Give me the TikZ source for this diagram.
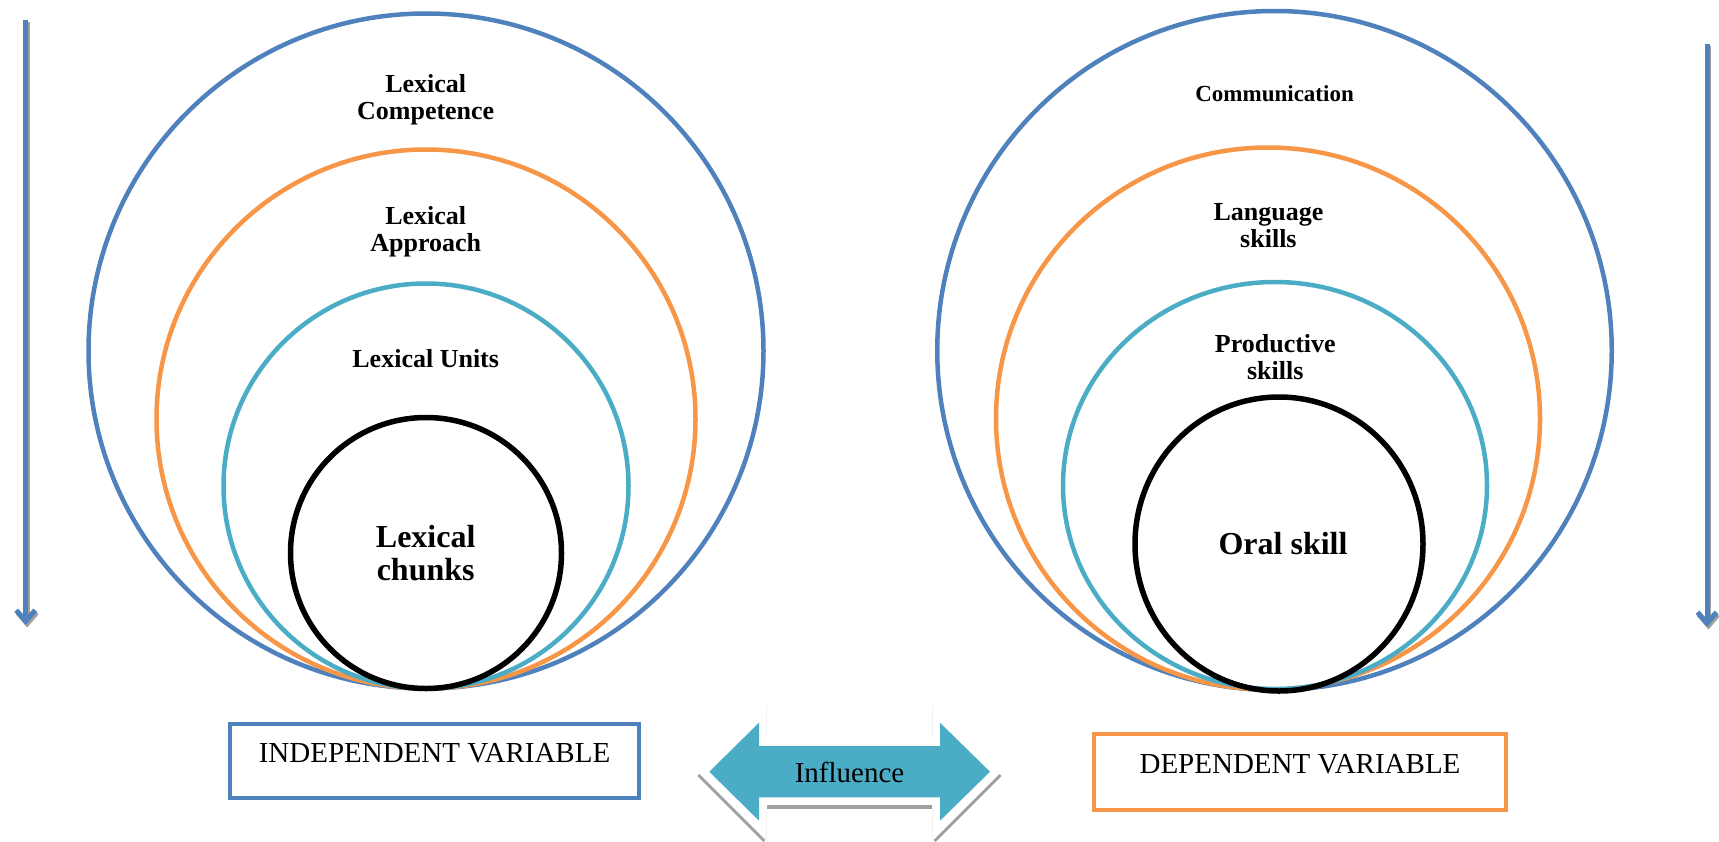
\documentclass[tikz,border=0pt]{standalone}
\usepackage{fontspec}
\setmainfont{Liberation Serif}
\usetikzlibrary{arrows.meta,shapes.geometric}
\definecolor{cblue}{RGB}{79,129,189}
\definecolor{corange}{RGB}{247,150,70}
\definecolor{cteal}{RGB}{75,172,198}
\definecolor{cgray}{RGB}{160,160,160}
\begin{document}
\begin{tikzpicture}[x=1pt,y=-1pt,
  ring/.style={ellipse, draw, line width=4.5pt, inner sep=0pt, outer sep=0pt},
  lab/.style={font=\bfseries\fontsize{26}{27}\selectfont, align=center, inner sep=0pt},
  smalllab/.style={font=\bfseries\fontsize{23}{25}\selectfont, align=center, inner sep=0pt},
  biglab/.style={font=\bfseries\fontsize{32}{33.3}\selectfont, align=center, inner sep=0pt},
  varbox/.style={draw=#1, line width=4.5pt, inner sep=0pt, text=black, font=\fontsize{29}{32}\selectfont, text height=19.2pt},
  vline/.style={line width=5pt, cblue, -{Straight Barb[length=11pt,width=19pt]}},
  vshadow/.style={line width=5pt, cgray, -{Straight Barb[length=11pt,width=19pt]}},
]
\useasboundingbox (0,0) rectangle (1719,841);

% left vertical arrow
\coordinate (a1s) at (25.7,19.7);
\coordinate (a1e) at (25.7,625);
\draw[vshadow] ([shift={(1.5,2.5)}]a1s) -- ([shift={(1.5,2.5)}]a1e);
\draw[vline] (a1s) -- (a1e);
% right vertical arrow
\coordinate (a2s) at (1707,43.9);
\coordinate (a2e) at (1707,627);
\draw[vshadow] ([shift={(1.5,2.5)}]a2s) -- ([shift={(1.5,2.5)}]a2e);
\draw[vline] (a2s) -- (a2e);

% left rings
\node[ring, cblue,   minimum width=675pt, minimum height=675pt] (L1) at (426,351) {};
\node[ring, corange, minimum width=539pt, minimum height=539pt] (L2) at (426,419) {};
\node[ring, cteal,   minimum width=405pt, minimum height=405pt] (L3) at (426,486) {};
\node[ring, black, line width=5.5pt, minimum width=271pt, minimum height=271pt] (L4) at (426,553) {};

% right rings
\node[ring, cblue,   minimum width=674.5pt, minimum height=679pt] (R1) at (1274.5,350.5) {};
\node[ring, corange, minimum width=544pt, minimum height=542pt] (R2) at (1268,418.5) {};
\node[ring, cteal,   minimum width=424pt, minimum height=407pt] (R3) at (1275,485.5) {};
\node[ring, black, line width=5.5pt, minimum width=288pt, minimum height=294pt] (R4) at (1279,544) {};

% left labels
\node[lab] (tLC) at (425.7,100) {Lexical\\Competence};
\node[lab] (tLA) at (425.7,231.3) {Lexical\\Approach};
\node[lab] (tLU) at (425.7,358.8) {Lexical Units};
\node[biglab] (tLK) at (425.7,553.3) {Lexical\\chunks};

% right labels
\node[smalllab] (tCo) at (1274.6,93.8) {Communication};
\node[lab] (tLS) at (1268.4,226) {Language\\skills};
\node[lab] (tPS) at (1275.3,357.5) {Productive\\skills};
\node[biglab] (tOS) at (1283,543.3) {Oral skill};

% variable boxes
\node[varbox=cblue, minimum width=409pt, minimum height=74pt, text depth=15.8pt] (iv) at (434.5,761) {INDEPENDENT VARIABLE};
\node[varbox=corange, minimum width=412pt, minimum height=76pt, text depth=17.2pt] (dv) at (1300,772) {DEPENDENT VARIABLE};

% influence arrow shadow bits
\draw[gray!12, line width=1pt] (766.7,706) -- (766.7,737) (766.7,810) -- (766.7,841);
\draw[gray!12, line width=1pt] (932.3,706) -- (932.3,737) (932.3,810) -- (932.3,841);
\draw[cgray, line width=2.8pt] (698.3,775) -- (764.3,841);
\draw[cgray, line width=2.8pt] (1000.7,775) -- (934.7,841);
\draw[cgray, line width=4pt] (766.7,807.3) -- (932.3,807.3);

% influence double arrow
\fill[cteal] (709.3,771.7) -- (759,722.7) -- (759,746) -- (940,746) -- (940,722.7) -- (990,771.7)
  -- (940,820.7) -- (940,797.3) -- (759,797.3) -- (759,820.7) -- cycle;
\node[font=\fontsize{29}{32}\selectfont, anchor=base, inner sep=0pt] (inf) at (849.5,782.7) {Influence};
\end{tikzpicture}
\end{document}
